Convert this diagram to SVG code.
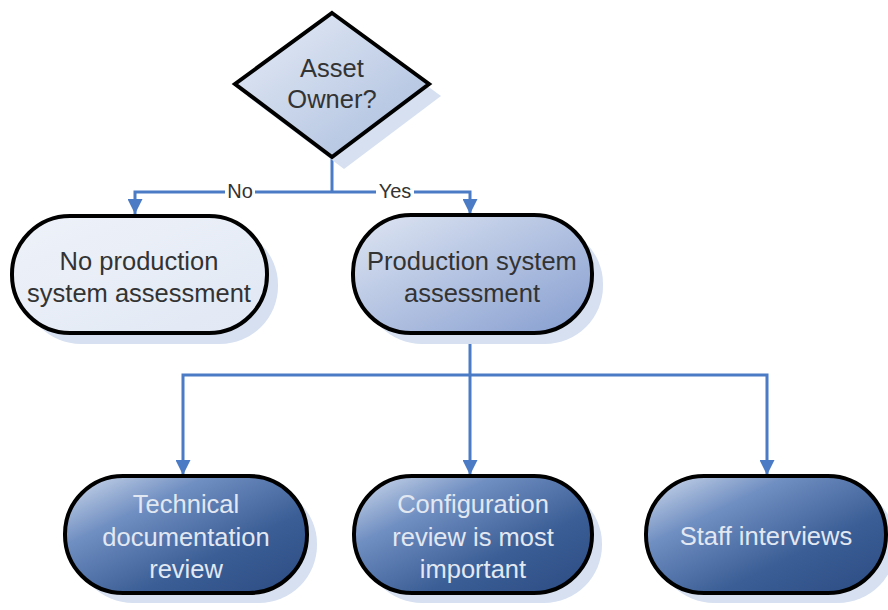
<svg xmlns="http://www.w3.org/2000/svg" width="888" height="610" viewBox="0 0 888 610">
<defs>
<linearGradient id="gDark" x1="0" y1="0" x2="1" y2="1">
<stop offset="0" stop-color="#d3deef"/>
<stop offset="0.3" stop-color="#6f8ec1"/>
<stop offset="0.65" stop-color="#3b5e96"/>
<stop offset="1" stop-color="#2b4b82"/>
</linearGradient>
<linearGradient id="gMid" x1="0" y1="0" x2="1" y2="1">
<stop offset="0" stop-color="#dfe6f3"/>
<stop offset="1" stop-color="#859dcf"/>
</linearGradient>
<linearGradient id="gLight" x1="0" y1="0" x2="1" y2="1">
<stop offset="0" stop-color="#eef2f9"/>
<stop offset="1" stop-color="#e1e8f4"/>
</linearGradient>
<linearGradient id="gDia" x1="0" y1="0" x2="1" y2="1">
<stop offset="0" stop-color="#e6ecf6"/>
<stop offset="1" stop-color="#a9bcdd"/>
</linearGradient>
<marker id="arr" viewBox="0 0 10 10" refX="10" refY="5" markerWidth="5" markerHeight="5" orient="auto" markerUnits="strokeWidth">
<path d="M0,0 L10,5 L0,10 z" fill="#4a7bc4"/>
</marker>
<style>
.shadow{fill:#d6e0f0}
.box{stroke:#000;stroke-width:4}
.t{font-family:"Liberation Sans",Arial,sans-serif;font-size:25.5px;text-anchor:middle}
.dk{fill:#333333}
.lt{fill:#e2e8f2}
.lbl{font-family:"Liberation Sans",Arial,sans-serif;font-size:20px;text-anchor:middle;fill:#333333}
.con{fill:none;stroke:#4a7bc4;stroke-width:3}
</style>
</defs>
<rect width="888" height="610" fill="#ffffff"/>

<g id="connectors">
<path class="con" d="M332,157 V192"/>
<path class="con" d="M332,192 H135 V214" marker-end="url(#arr)"/>
<path class="con" d="M332,192 H470 V214" marker-end="url(#arr)"/>
<rect x="225" y="180" width="30" height="22" fill="#ffffff"/>
<text class="lbl" x="240" y="198">No</text>
<rect x="376" y="180" width="38" height="22" fill="#ffffff"/>
<text class="lbl" x="395" y="198">Yes</text>
<path class="con" d="M470,333 V375"/>
<path class="con" d="M470,375 H183 V475" marker-end="url(#arr)"/>
<path class="con" d="M470,375 V475" marker-end="url(#arr)"/>
<path class="con" d="M470,375 H767 V475" marker-end="url(#arr)"/>
</g>

<g id="asset-owner">
<polygon class="shadow" points="344,25 441,96 344,169 247,96"/>
<polygon class="box" fill="url(#gDia)" points="332,13 429,84 332,157 235,84"/>
<text class="t dk" x="332" y="77">Asset</text>
<text class="t dk" x="332" y="108">Owner?</text>
</g>

<g id="no-production">
<rect class="shadow" x="23" y="227" width="255" height="117" rx="58" ry="58"/>
<rect class="box" fill="url(#gLight)" x="12" y="216" width="255" height="117" rx="58" ry="58"/>
<text class="t dk" x="139" y="270">No production</text>
<text class="t dk" x="139" y="302">system assessment</text>
</g>

<g id="production">
<rect class="shadow" x="364" y="226" width="239" height="118" rx="58" ry="58"/>
<rect class="box" fill="url(#gMid)" x="353" y="215" width="239" height="118" rx="58" ry="58"/>
<text class="t dk" x="472" y="270">Production system</text>
<text class="t dk" x="472" y="302">assessment</text>
</g>

<g id="technical">
<rect class="shadow" x="75" y="486" width="242" height="117" rx="58" ry="58"/>
<rect class="box" fill="url(#gDark)" x="65" y="476" width="242" height="117" rx="58" ry="58"/>
<text class="t lt" x="186" y="513">Technical</text>
<text class="t lt" x="186" y="546">documentation</text>
<text class="t lt" x="186" y="578">review</text>
</g>

<g id="configuration">
<rect class="shadow" x="364" y="486" width="238" height="117" rx="58" ry="58"/>
<rect class="box" fill="url(#gDark)" x="354" y="476" width="238" height="117" rx="58" ry="58"/>
<text class="t lt" x="473" y="513">Configuration</text>
<text class="t lt" x="473" y="546">review is most</text>
<text class="t lt" x="473" y="578">important</text>
</g>

<g id="staff">
<rect class="shadow" x="656" y="486" width="240" height="117" rx="58" ry="58"/>
<rect class="box" fill="url(#gDark)" x="646" y="476" width="240" height="117" rx="58" ry="58"/>
<text class="t lt" x="766" y="545">Staff interviews</text>
</g>
</svg>
